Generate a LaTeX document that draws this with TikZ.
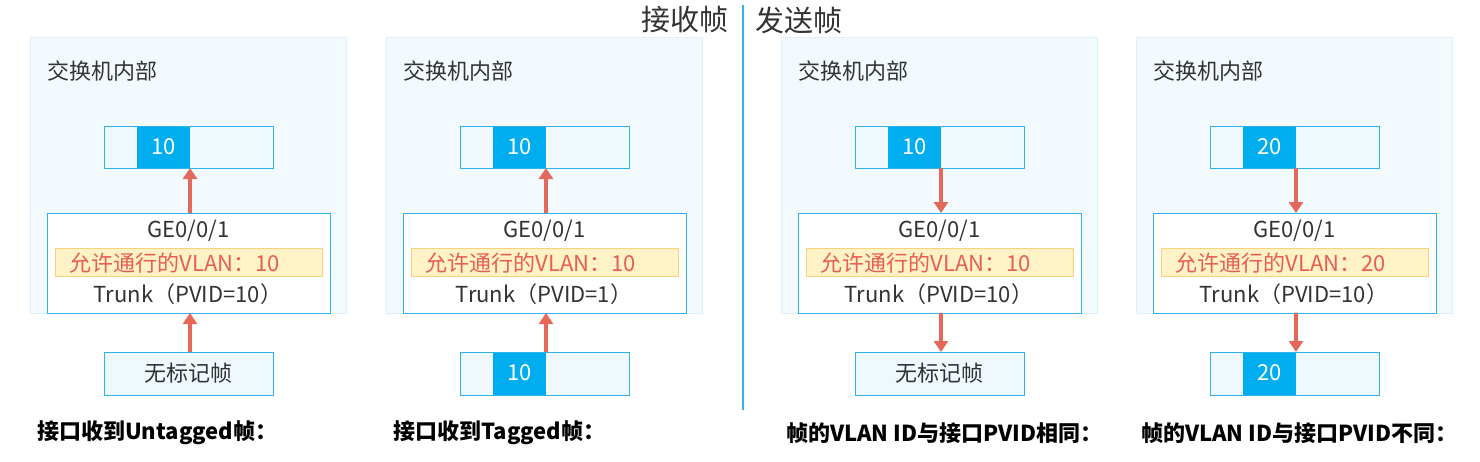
\documentclass[tikz,border=0pt]{standalone}
\usepackage{fontspec}
\setmainfont{Noto Sans CJK SC}
\usetikzlibrary{arrows.meta}
\definecolor{lb}{HTML}{DDF1FB}
\definecolor{pb}{HTML}{F3FAFE}
\definecolor{bd}{HTML}{2FB3EA}
\definecolor{blu}{HTML}{00AEEF}
\definecolor{ar}{HTML}{E5695B}
\definecolor{ye}{HTML}{FFF2C6}
\definecolor{yb}{HTML}{F9D27E}
\definecolor{txt}{HTML}{333333}
\tikzset{
 outer/.style={draw=lb,fill=pb,line width=1pt},
 frame/.style={draw=bd,fill=lb!50,line width=1pt},
 port/.style={draw=bd,fill=white,line width=1pt},
 ybox/.style={draw=yb,fill=ye,line width=1pt},
 seg/.style={fill=blu},
 arr/.style={draw=ar,line width=4pt,-{Triangle[length=11pt,width=14pt]}},
 t/.style={text=txt,font=\fontsize{22}{26}\selectfont,inner sep=0pt},
 lab/.style={text=black,font=\fontsize{22}{26}\selectfont\bfseries,inner sep=0pt,anchor=west},
}
\begin{document}
\begin{tikzpicture}[x=1pt,y=-1pt]
\useasboundingbox (0,0) rectangle (1480,461);
\draw[bd,line width=1.5pt] (743,5) -- (743,410);
\node[t,anchor=east,font=\fontsize{29}{32}\selectfont] (rx) at (729,20) {接收帧};
\node[t,anchor=west,font=\fontsize{29}{32}\selectfont] (tx) at (755,20) {发送帧};
\newcommand\panel[7]{%
 \begin{scope}[xshift=#1]
 \draw[outer] (30,37) rectangle (346,313);
 \node[t,anchor=west] (h#2) at (47,71) {交换机内部};
 \draw[frame] (104,126) rectangle (273,168);
 \fill[seg] (137,126.5) rectangle (190,167.5);
 \node[t,text=white] (v#2) at (163.5,147) {#3};
 \coordinate (tb#2) at (190,168); \coordinate (tt#2) at (190,126);
 \draw[port] (47,213) rectangle (330,313);
 \coordinate (pt#2) at (190,213); \coordinate (pb#2) at (190,313);
 \node[t] (g#2) at (188.5,231) {GE0/0/1};
 \draw[ybox] (55,248) rectangle (322,276);
 \node[t,text=ar!90!red] (a#2) at (175,263) {允许通行的VLAN：#5};
 \node[t] (k#2) at (188,294) {Trunk（PVID=#4）};
 \ifcase#7
   \draw[frame] (104,352) rectangle (273,395);
   \node[t] (b#2) at (188.5,373) {无标记帧};
 \or
   \draw[frame] (104,352) rectangle (273,395);
   \fill[seg] (137,352.5) rectangle (190,394.5);
   \node[t,text=white] (b#2) at (163.5,373) {#3};
 \fi
 \coordinate (bt#2) at (190,352);
 \ifnum#6=0
   \draw[arr] (pt#2) -- (tb#2);
   \draw[arr] (bt#2) -- (pb#2);
 \else
   \draw[arr] (tb#2) -- (pt#2);
   \draw[arr] (pb#2) -- (bt#2);
 \fi
 \end{scope}}
\panel{0}{A}{10}{10}{10}{0}{0}
\panel{356}{B}{10}{1}{10}{0}{1}
\panel{751}{C}{10}{10}{10}{1}{0}
\panel{1106}{D}{20}{10}{20}{1}{1}
\node[lab] (l1) at (37,433) {接口收到Untagged帧：};
\node[lab] (l2) at (393,433) {接口收到Tagged帧：};
\node[lab] (l3) at (786,433) {帧的VLAN ID与接口PVID相同：};
\node[lab] (l4) at (1141,433) {帧的VLAN ID与接口PVID不同：};
\end{tikzpicture}
\end{document}
